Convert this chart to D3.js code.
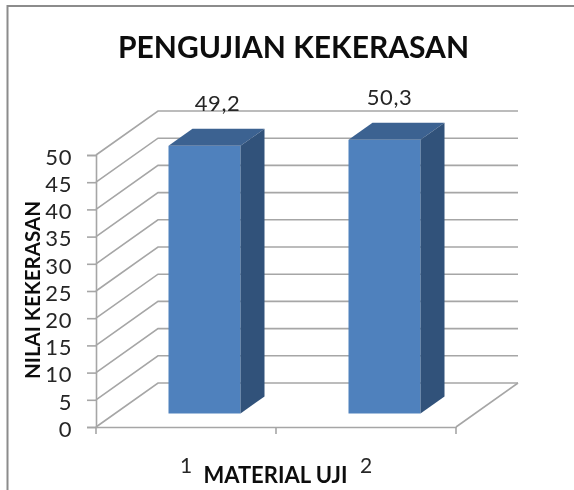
<!DOCTYPE html>
<html>
<head>
<meta charset="utf-8">
<script src="https://cdn.jsdelivr.net/npm/d3@7"></script>
<style>
html, body { margin: 0; padding: 0; background: #fff; overflow: hidden; }
text { font-family: Lato, "Open Sans", sans-serif; }
svg { filter: blur(0.4px); }
</style>
</head>
<body>
<div class="chart"></div>
<script>
const categories = ['1', '2'];
const values = [49.2, 50.3];
const valueLabels = ['49,2', '50,3'];
const yTicks = [0, 5, 10, 15, 20, 25, 30, 35, 40, 45, 50];
const title = 'PENGUJIAN KEKERASAN';
const xTitle = 'MATERIAL UJI';
const yTitle = 'NILAI KEKERASAN';

const _width = 574, _height = 490;
const wallDx = 62, wallDy = -44;       // depth of the 3d box
const barDx = 24, barDy = -17;         // depth of one bar
const barOffX = 18.5, barOffY = -13.5; // bar front face offset from the floor edge
const labelNudge = [13, 5];            // data labels are not centred the same way on each bar

let svg = d3.select('.chart')
    .append('svg')
    .attr('width', _width)
    .attr('height', _height)
    .style('display', 'block');

let x = d3.scaleBand().domain(categories).range([96, 456]).paddingInner(0).paddingOuter(0);
let y = d3.scaleLinear().domain([0, 50]).range([427, 155]);
let barW = x.bandwidth() * 0.4;
let barX = d => x(d) + (x.bandwidth() - barW) / 2 + barOffX;

// outer frame
svg.append('path')
    .attr('d', 'M7.5,490V6H574')
    .attr('fill', 'none')
    .attr('stroke', '#8c8c8c')
    .attr('stroke-width', 2);

const gridColor = '#a6a6a6';

// back wall gridlines and side wall lines
let grid = svg.append('g').attr('fill', 'none').attr('stroke', gridColor).attr('stroke-width', 1.6);
grid.selectAll('path')
    .data(yTicks)
    .enter().append('path')
    .attr('d', d => `M${x.range()[0]},${y(d)}L${x.range()[0] + wallDx},${y(d) + wallDy}H${x.range()[1] + wallDx}`);

// floor right edge
grid.append('path')
    .attr('d', `M${x.range()[1]},${y(0)}L${x.range()[1] + wallDx},${y(0) + wallDy}`);

// axes
let yAxis = d3.axisLeft(y).tickValues(yTicks).tickSize(9).tickPadding(15);
let yG = svg.append('g').attr('transform', `translate(${x.range()[0]},0)`).call(yAxis);
yG.select('.domain').attr('stroke', gridColor).attr('stroke-width', 1.6);
yG.selectAll('.tick line').attr('stroke', gridColor).attr('stroke-width', 1.6);
yG.selectAll('.tick text')
    .attr('font-size', 22)
    .attr('letter-spacing', 0.6)
    .attr('dy', '0.42em')
    .attr('fill', '#262626')
    .style('font-family', 'Lato, "Open Sans", sans-serif');

let xAxis = d3.axisBottom(x).tickValues([]).tickSizeOuter(0);
let xG = svg.append('g').attr('transform', `translate(0,${y(0)})`).call(xAxis);
xG.select('.domain').attr('stroke', gridColor).attr('stroke-width', 1.6);
xG.selectAll('line.sep')
    .data([x.range()[0], x(categories[1]), x.range()[1]])
    .enter().append('line')
    .attr('class', 'sep')
    .attr('x1', d => d).attr('x2', d => d)
    .attr('y1', 0).attr('y2', 7)
    .attr('stroke', gridColor)
    .attr('stroke-width', 1.6);

// bars
let bars = svg.selectAll('g.bar')
    .data(categories.map((c, i) => ({c: c, v: values[i], label: valueLabels[i], nudge: labelNudge[i]})))
    .enter().append('g')
    .attr('class', 'bar');

let base = y(0) + barOffY;
let barTop = d => base - (y(0) - y(d.v));

bars.append('rect')
    .attr('x', d => barX(d.c))
    .attr('y', d => barTop(d))
    .attr('width', barW)
    .attr('height', d => base - barTop(d))
    .attr('fill', '#4f81bd');

bars.append('path')
    .attr('d', d => `M${barX(d.c)},${barTop(d)}l${barDx},${barDy}h${barW}l${-barDx},${-barDy}Z`)
    .attr('fill', '#3c6291');

bars.append('path')
    .attr('d', d => `M${barX(d.c) + barW},${barTop(d)}l${barDx},${barDy}V${base + barDy}l${-barDx},${-barDy}Z`)
    .attr('fill', '#31527a');

// data labels
bars.append('text')
    .attr('x', d => barX(d.c) + barW / 2 + d.nudge)
    .attr('y', d => barTop(d) - 35)
    .attr('text-anchor', 'middle')
    .attr('font-size', 22)
    .attr('letter-spacing', 0.6)
    .attr('fill', '#262626')
    .text(d => d.label);

// category labels
svg.selectAll('text.cat')
    .data(categories)
    .enter().append('text')
    .attr('class', 'cat')
    .attr('x', d => x(d) + x.bandwidth() / 2)
    .attr('y', 473)
    .attr('text-anchor', 'middle')
    .attr('font-size', 21)
    .attr('fill', '#262626')
    .text(d => d);

// titles
svg.append('text')
    .attr('x', 293.5)
    .attr('y', 58)
    .attr('text-anchor', 'middle')
    .attr('font-size', 30)
    .attr('font-weight', 700)
    .attr('fill', '#0d0d0d')
    .text(title);

svg.append('text')
    .attr('x', 275.5)
    .attr('y', 483)
    .attr('text-anchor', 'middle')
    .attr('font-size', 22)
    .attr('font-weight', 700)
    .attr('fill', '#0d0d0d')
    .text(xTitle);

svg.append('text')
    .attr('transform', 'translate(40,290) rotate(-90)')
    .attr('text-anchor', 'middle')
    .attr('font-size', 20.5)
    .attr('font-weight', 700)
    .attr('fill', '#0d0d0d')
    .text(yTitle);
</script>
</body>
</html>
